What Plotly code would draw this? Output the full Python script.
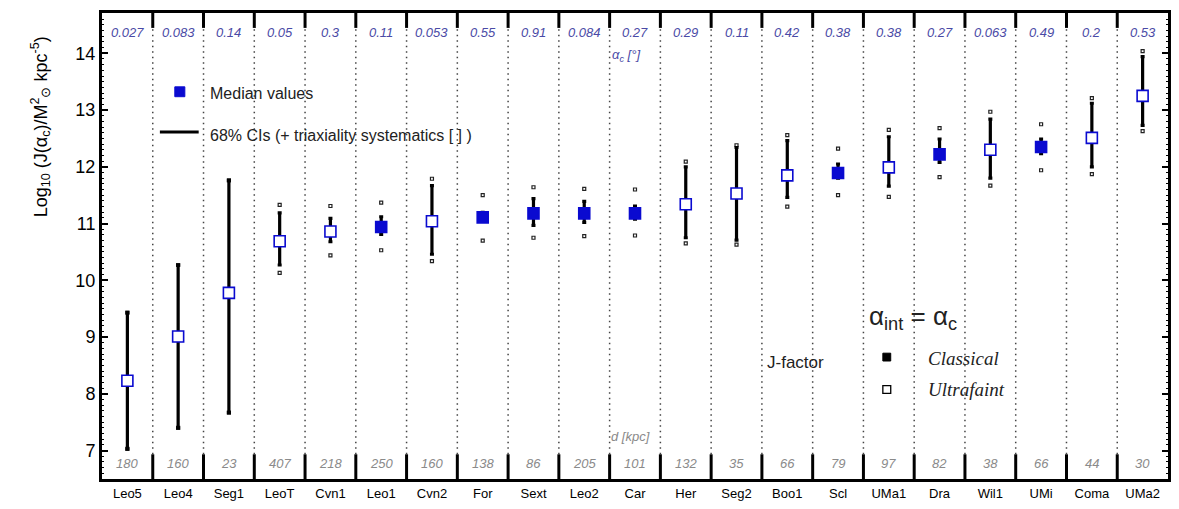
import plotly.graph_objects as go

# ---------------- data ----------------
names = ["Leo5", "Leo4", "Seg1", "LeoT", "Cvn1", "Leo1", "Cvn2", "For", "Sext", "Leo2", "Car",
         "Her", "Seg2", "Boo1", "Scl", "UMa1", "Dra", "Wil1", "UMi", "Coma", "UMa2"]
alpha_c = ["0.027", "0.083", "0.14", "0.05", "0.3", "0.11", "0.053", "0.55", "0.91", "0.084", "0.27",
           "0.29", "0.11", "0.42", "0.38", "0.38", "0.27", "0.063", "0.49", "0.2", "0.53"]
dist_kpc = [180, 160, 23, 407, 218, 250, 160, 138, 86, 205, 101,
            132, 35, 66, 79, 97, 82, 38, 66, 44, 30]
median = [8.23, 9.01, 9.78, 10.69, 10.86, 10.94, 11.04, 11.11, 11.18, 11.18, 11.18,
          11.34, 11.53, 11.85, 11.89, 11.99, 12.22, 12.30, 12.35, 12.51, 13.25]
ci_lo = [7.03, 7.40, 7.67, 10.27, 10.68, 10.81, 10.46, 11.05, 10.97, 11.02, 11.08,
         10.75, 10.71, 11.46, 11.80, 11.66, 12.08, 11.80, 12.23, 12.00, 12.73]
ci_hi = [9.43, 10.27, 11.76, 11.19, 11.09, 11.12, 11.67, 11.20, 11.44, 11.39, 11.31,
         12.00, 12.34, 12.46, 12.05, 12.53, 12.49, 12.84, 12.49, 13.12, 13.94]
sys_lo = [7.03, 7.40, 7.67, 10.13, 10.44, 10.53, 10.34, 10.70, 10.75, 10.78, 10.79,
          10.65, 10.63, 11.30, 11.50, 11.47, 11.82, 11.67, 11.94, 11.87, 12.63]
sys_hi = [9.43, 10.27, 11.76, 11.33, 11.31, 11.37, 11.79, 11.50, 11.64, 11.61, 11.60,
          12.09, 12.38, 12.56, 12.32, 12.65, 12.68, 12.97, 12.75, 13.21, 14.04]
classical = [0, 0, 0, 0, 0, 1, 0, 1, 1, 1, 1, 0, 0, 0, 1, 0, 1, 0, 1, 0, 0]

# ---------------- style ----------------
BLUE = "#0a0ad0"
TOPC = "#4a4aa6"
BOTC = "#8a8a8a"
SANS = "Liberation Sans, Arial, sans-serif"
SERIF = "Liberation Serif, Times New Roman, serif"

fig = go.Figure()

# triaxiality systematics brackets
fig.add_trace(go.Scatter(
    x=names + names, y=sys_hi + sys_lo, mode="markers",
    marker=dict(symbol="square-open", size=3, color="#222222", line=dict(width=1.2, color="#222222")),
    hoverinfo="skip", showlegend=False))

# 68% CIs + median markers
cls_idx = [i for i, c in enumerate(classical) if c]
uf_idx = [i for i, c in enumerate(classical) if not c]
for idx, filled in ((uf_idx, False), (cls_idx, True)):
    fig.add_trace(go.Scatter(
        x=[names[i] for i in idx], y=[median[i] for i in idx], mode="markers",
        error_y=dict(type="data", symmetric=False,
                     array=[ci_hi[i] - median[i] for i in idx],
                     arrayminus=[median[i] - ci_lo[i] for i in idx],
                     color="black", thickness=3.2, width=2),
        marker=dict(symbol="square", size=11,
                    color=BLUE if filled else "white",
                    line=dict(width=1.6, color=BLUE)),
        showlegend=False))

shapes = []
annotations = []
n = len(names)
for i in range(n - 1):
    xb = i + 0.5
    shapes.append(dict(type="line", xref="x", yref="paper", x0=xb, x1=xb, y0=0.053, y1=0.968,
                       line=dict(color="#444444", width=1.5, dash="1.5px,4px")))
    shapes.append(dict(type="line", xref="x", yref="paper", x0=xb, x1=xb, y0=0.968, y1=1,
                       line=dict(color="black", width=3)))
    shapes.append(dict(type="line", xref="x", yref="paper", x0=xb, x1=xb, y0=0, y1=0.053,
                       line=dict(color="black", width=3)))

for i, nm in enumerate(names):
    annotations.append(dict(x=nm, xref="x", y=0.958, yref="paper", text="<i>%s</i>" % alpha_c[i],
                            showarrow=False, font=dict(family=SANS, size=13, color=TOPC),
                            xanchor="center", yanchor="middle"))
    annotations.append(dict(x=nm, xref="x", y=0.034, yref="paper", text="<i>%d</i>" % dist_kpc[i],
                            showarrow=False, font=dict(family=SANS, size=13, color=BOTC),
                            xanchor="center", yanchor="middle"))

# row labels
annotations.append(dict(x=0.477, xref="paper", y=0.908, yref="paper", text="<i>α<sub>c</sub> [°]</i>",
                        showarrow=False, xanchor="left", yanchor="middle",
                        font=dict(family=SANS, size=13, color=TOPC)))
annotations.append(dict(x=0.476, xref="paper", y=0.0907, yref="paper", text="<i>d [kpc]</i>",
                        showarrow=False, xanchor="left", yanchor="middle",
                        font=dict(family=SANS, size=13, color=BOTC)))

# y axis title
annotations.append(dict(x=-0.058, xref="paper", y=0.755, yref="paper", textangle=-90,
                        text="Log<sub>10</sub> (J(α<sub>c</sub>)/M<sup>2</sup><sub>⊙</sub> kpc<sup>-5</sup>)",
                        showarrow=False, xanchor="center", yanchor="middle",
                        font=dict(family=SANS, size=18, color="black")))

# legend (top-left)
shapes.append(dict(type="rect", xref="paper", yref="paper", x0=0.073 - 0.0047, x1=0.073 + 0.0047,
                   y0=0.831 - 0.0106, y1=0.831 + 0.0106, fillcolor=BLUE, line=dict(color=BLUE, width=1)))
annotations.append(dict(x=0.0992, xref="paper", y=0.827, yref="paper", text="Median values",
                        showarrow=False, xanchor="left", yanchor="middle",
                        font=dict(family=SANS, size=16, color="#222222")))
shapes.append(dict(type="line", xref="paper", yref="paper", x0=0.0543, x1=0.0907, y0=0.7447, y1=0.7447,
                   line=dict(color="black", width=3)))
annotations.append(dict(x=0.0992, xref="paper", y=0.738, yref="paper",
                        text="68% CIs (+ triaxiality systematics [ ] )",
                        showarrow=False, xanchor="left", yanchor="middle",
                        font=dict(family=SANS, size=16, color="#222222")))

# legend (bottom-right)
annotations.append(dict(x=0.7605, xref="paper", y=0.346, yref="paper",
                        text="α<sub>int</sub> = α<sub>c</sub>", showarrow=False,
                        xanchor="center", yanchor="middle",
                        font=dict(family=SANS, size=26, color="#222222")))
annotations.append(dict(x=0.622, xref="paper", y=0.249, yref="paper", text="J-factor",
                        showarrow=False, xanchor="left", yanchor="middle",
                        font=dict(family=SANS, size=17, color="#222222")))
shapes.append(dict(type="rect", xref="paper", yref="paper", x0=0.7362 - 0.0037, x1=0.7362 + 0.0037,
                   y0=0.2616 - 0.0084, y1=0.2616 + 0.0084, fillcolor="black", line=dict(color="black", width=1)))
shapes.append(dict(type="rect", xref="paper", yref="paper", x0=0.7362 - 0.0037, x1=0.7362 + 0.0037,
                   y0=0.192 - 0.0084, y1=0.192 + 0.0084, fillcolor="white", line=dict(color="black", width=1.3)))
annotations.append(dict(x=0.7727, xref="paper", y=0.2595, yref="paper", text="<i>Classical</i>",
                        showarrow=False, xanchor="left", yanchor="middle",
                        font=dict(family=SERIF, size=19, color="#222222")))
annotations.append(dict(x=0.7727, xref="paper", y=0.192, yref="paper", text="<i>Ultrafaint</i>",
                        showarrow=False, xanchor="left", yanchor="middle",
                        font=dict(family=SERIF, size=19, color="#222222")))

fig.update_layout(
    width=1179, height=509,
    margin=dict(l=102, r=8, t=13, b=22),
    paper_bgcolor="white", plot_bgcolor="white",
    font=dict(family=SANS, color="black"),
    shapes=shapes, annotations=annotations,
    xaxis=dict(type="category", categoryorder="array", categoryarray=names,
               range=[-0.5, n - 0.5], showgrid=False, zeroline=False,
               showline=True, linecolor="black", linewidth=3, mirror=True,
               ticks="", tickfont=dict(family=SANS, size=13, color="black")),
    yaxis=dict(range=[6.5, 14.71], tickvals=[7, 8, 9, 10, 11, 12, 13, 14],
               showgrid=False, zeroline=False,
               showline=True, linecolor="black", linewidth=3, mirror="ticks",
               ticks="inside", ticklen=6, tickwidth=2, tickcolor="black",
               minor=dict(ticks="inside", ticklen=2, tickwidth=1.2, dtick=0.1, tickcolor="black"),
               tickfont=dict(family=SANS, size=18, color="black")),
)

fig.write_html("out.html")
